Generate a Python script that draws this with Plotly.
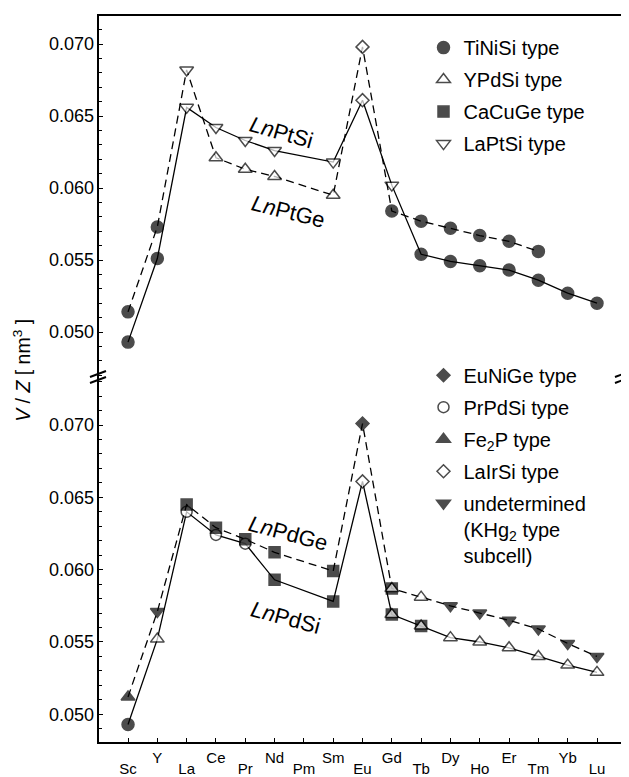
import plotly.graph_objects as go

# ---------------- data ----------------
ELEMENTS = ["Sc", "Y", "La", "Ce", "Pr", "Nd", "Pm", "Sm", "Eu",
            "Gd", "Tb", "Dy", "Ho", "Er", "Tm", "Yb", "Lu"]
UPPER_ROW = ["Y", "Ce", "Nd", "Sm", "Gd", "Dy", "Er", "Yb"]   # staggered tick labels

# top panel: LnPtSi (solid) and LnPtGe (dashed)
PTSI_V = [0.0493, 0.0551, 0.0656, 0.0642, 0.0633, 0.0626, None, 0.0618, 0.0661,
          0.0602, 0.0554, 0.0549, 0.0546, 0.0543, 0.0536, 0.0527, 0.0520]
PTSI_T = ["TiNiSi", "TiNiSi", "LaPtSi", "LaPtSi", "LaPtSi", "LaPtSi", None, "LaPtSi", "LaIrSi",
          "LaPtSi", "TiNiSi", "TiNiSi", "TiNiSi", "TiNiSi", "TiNiSi", "TiNiSi", "TiNiSi"]

PTGE_V = [0.0514, 0.0573, 0.0682, 0.0621, 0.0613, 0.0608, None, 0.0595, 0.0698,
          0.0584, 0.0577, 0.0572, 0.0567, 0.0563, 0.0556, None, None]
PTGE_T = ["TiNiSi", "TiNiSi", "LaPtSi", "YPdSi", "YPdSi", "YPdSi", None, "YPdSi", "LaIrSi",
          "TiNiSi", "TiNiSi", "TiNiSi", "TiNiSi", "TiNiSi", "TiNiSi", None, None]

# bottom panel: LnPdSi (solid) and LnPdGe (dashed)
PDSI_V = [0.0493, 0.0552, 0.0640, 0.0624, 0.0618, 0.0593, None, 0.0578, 0.0661,
          0.0569, 0.0561, 0.0553, 0.0550, 0.0546, 0.0540, 0.0534, 0.0529]
PDSI_T = ["TiNiSi", "YPdSi", "PrPdSi", "PrPdSi", "PrPdSi", "CaCuGe", None, "CaCuGe", "LaIrSi",
          "CaCuGe", "CaCuGe", "YPdSi", "YPdSi", "YPdSi", "YPdSi", "YPdSi", "YPdSi"]
PDSI_T2 = [None, None, None, None, None, None, None, None, None,
           "YPdSi", "YPdSi", None, None, None, None, None, None]

PDGE_V = [0.0512, 0.0571, 0.0645, 0.0629, 0.0621, 0.0612, None, 0.0599, 0.0701,
          0.0587, 0.0581, 0.0575, 0.0570, 0.0565, 0.0559, 0.0549, 0.0540]
PDGE_T = ["Fe2P", "undet", "CaCuGe", "CaCuGe", "CaCuGe", "CaCuGe", None, "CaCuGe", "EuNiGe",
          "CaCuGe", "YPdSi", "undet", "undet", "undet", "undet", "undet", "undet"]
PDGE_T2 = [None, None, None, None, None, None, None, None, None,
           "YPdSi", None, None, None, None, None, None, None]

TOP_LEGEND = [("TiNiSi", "TiNiSi type"), ("YPdSi", "YPdSi type"),
              ("CaCuGe", "CaCuGe type"), ("LaPtSi", "LaPtSi type")]
BOTTOM_LEGEND = [("EuNiGe", "EuNiGe type"), ("PrPdSi", "PrPdSi type"),
                 ("Fe2P", "Fe<sub>2</sub>P type"), ("LaIrSi", "LaIrSi type"),
                 ("undet", "undetermined<br>(KHg<sub>2</sub> type<br>subcell)")]

# ---------------- styles ----------------
STYLE = {  # symbol, fill, size
    "TiNiSi": ("circle", "black", 12),
    "YPdSi": ("triangle-up", "white", 12),
    "CaCuGe": ("square", "black", 11),
    "LaPtSi": ("triangle-down", "white", 12),
    "EuNiGe": ("diamond", "black", 10),
    "PrPdSi": ("circle", "white", 11),
    "Fe2P": ("triangle-up", "black", 12),
    "LaIrSi": ("diamond", "white", 10),
    "undet": ("triangle-down", "black", 12),
    None: ("circle", "black", 1),
}
FONT = "Liberation Sans, Arial, sans-serif"
XPOS = list(range(len(ELEMENTS)))
UP_POS = [i for i, e in enumerate(ELEMENTS) if e in UPPER_ROW]
LO_POS = [i for i, e in enumerate(ELEMENTS) if e not in UPPER_ROW]


def marker_for(types):
    return dict(symbol=[STYLE[t][0] for t in types],
                color=[STYLE[t][1] for t in types],
                size=[STYLE[t][2] for t in types],
                line=dict(color="black", width=1.5))


fig = go.Figure()


def add_series(vals, types, dash, yaxis, types2=None):
    fig.add_trace(go.Scatter(
        x=XPOS, y=vals, mode="lines+markers", connectgaps=True,
        line=dict(color="black", width=1.3, dash=dash),
        marker=marker_for(types), xaxis="x", yaxis=yaxis, showlegend=False,
        hoverinfo="skip"))
    if types2:
        xs = [x for x, t in zip(XPOS, types2) if t]
        ys = [v for v, t in zip(vals, types2) if t]
        ts = [t for t in types2 if t]
        fig.add_trace(go.Scatter(x=xs, y=ys, mode="markers", marker=marker_for(ts),
                                 xaxis="x", yaxis=yaxis, showlegend=False, hoverinfo="skip"))


DASH = "8px,5px"
add_series(PTSI_V, PTSI_T, "solid", "y")
add_series(PTGE_V, PTGE_T, DASH, "y")
add_series(PDSI_V, PDSI_T, "solid", "y2", PDSI_T2)
add_series(PDGE_V, PDGE_T, DASH, "y2", PDGE_T2)

for key, label in TOP_LEGEND:
    fig.add_trace(go.Scatter(x=[None], y=[None], mode="markers", name=label,
                             marker=marker_for([key]), legend="legend", legendgroup=key,
                             xaxis="x3", yaxis="y2"))
for key, label in BOTTOM_LEGEND:
    fig.add_trace(go.Scatter(x=[None], y=[None], mode="markers", name=label,
                             marker=marker_for([key]), legend="legend2", legendgroup=key,
                             xaxis="x2", yaxis="y2"))

# ---------------- layout ----------------
# the page body adds an 8px margin, so the figure is 8px smaller and margins compensate
BREAK = 0.5027
XR = [-1.024, 16.887]
ytick = dict(ticks="inside", ticklen=5, tickwidth=1.2, tickcolor="black",
             dtick=0.005, tick0=0.05, tickformat=".3f", automargin=False,
             ticklabelstandoff=3,
             minor=dict(ticks="inside", ticklen=4, dtick=0.001, tickcolor="black", tickwidth=1),
             showgrid=False, zeroline=False, showline=False,
             tickfont=dict(family=FONT, size=18, color="black"))
XFONT = dict(family=FONT, size=15, color="black")

fig.update_layout(
    width=621, height=769,
    margin=dict(l=90, r=6, t=7, b=34),
    paper_bgcolor="white", plot_bgcolor="white",
    font=dict(family=FONT, color="black"),
    # tick marks at every element
    xaxis=dict(range=XR, anchor="y2", tickmode="array", tickvals=XPOS, showticklabels=False,
               ticks="inside", ticklen=5, tickwidth=1.2, tickcolor="black",
               showgrid=False, zeroline=False, showline=False, automargin=False),
    # upper row of staggered labels
    xaxis2=dict(range=XR, anchor="y2", overlaying="x", tickmode="array", tickvals=UP_POS,
                ticktext=[ELEMENTS[i] for i in UP_POS], ticks="",
                showgrid=False, zeroline=False, showline=False, automargin=False,
                tickfont=XFONT, ticklabelstandoff=4),
    # lower row of staggered labels
    xaxis3=dict(range=XR, anchor="y2", overlaying="x", tickmode="array", tickvals=LO_POS,
                ticktext=[ELEMENTS[i] for i in LO_POS], ticks="",
                showgrid=False, zeroline=False, showline=False, automargin=False,
                tickfont=XFONT, ticklabelstandoff=15),
    yaxis=dict(domain=[BREAK, 1], range=[0.046875, 0.072014], anchor="x", **ytick),
    yaxis2=dict(domain=[0, BREAK], range=[0.048016, 0.073318], anchor="x", **ytick),
    legend=dict(x=0.62, y=0.982, xanchor="left", yanchor="top", bgcolor="rgba(0,0,0,0)",
                font=dict(family=FONT, size=20, color="black"), tracegroupgap=3,
                itemsizing="trace"),
    legend2=dict(x=0.62, y=0.532, xanchor="left", yanchor="top", bgcolor="rgba(0,0,0,0)",
                 font=dict(family=FONT, size=20, color="black"), tracegroupgap=3,
                 itemsizing="trace", valign="top"),
)

# frame and axis-break marks
shapes = [dict(type="rect", xref="paper", yref="paper", x0=0, x1=1, y0=0, y1=1,
               line=dict(color="black", width=2), fillcolor="rgba(0,0,0,0)", layer="above")]
px_x = 1 / 525.0
px_y = 1 / 728.0
for xc in (0, 1):
    for dy in (3, -3):
        shapes.append(dict(type="line", xref="paper", yref="paper",
                           x0=xc - 8 * px_x, x1=xc + 8 * px_x,
                           y0=BREAK + (dy - 3) * px_y, y1=BREAK + (dy + 3) * px_y,
                           line=dict(color="black", width=2)))
fig.update_layout(shapes=shapes)

LBL = dict(family=FONT, size=22, color="black")
ann = [
    dict(text="<i>V</i> / <i>Z</i> [ nm<sup>3</sup> ]", xref="paper", yref="paper",
         x=-0.145, y=0.5124, xanchor="center", yanchor="middle", textangle=-90,
         showarrow=False, font=dict(family=FONT, size=19.5, color="black")),
    dict(text="<i>Ln</i>PtSi", xref="x", yref="y", x=5.25, y=0.06387, textangle=16,
         showarrow=False, font=LBL),
    dict(text="<i>Ln</i>PtGe", xref="x", yref="y", x=5.46, y=0.05838, textangle=14,
         showarrow=False, font=LBL),
    dict(text="<i>Ln</i>PdGe", xref="x", yref="y2", x=5.49, y=0.06253, textangle=15,
         showarrow=False, font=LBL),
    dict(text="<i>Ln</i>PdSi", xref="x", yref="y2", x=5.36, y=0.05666, textangle=15,
         showarrow=False, font=LBL),
]
fig.update_layout(annotations=ann)

fig.write_html("out.html")
